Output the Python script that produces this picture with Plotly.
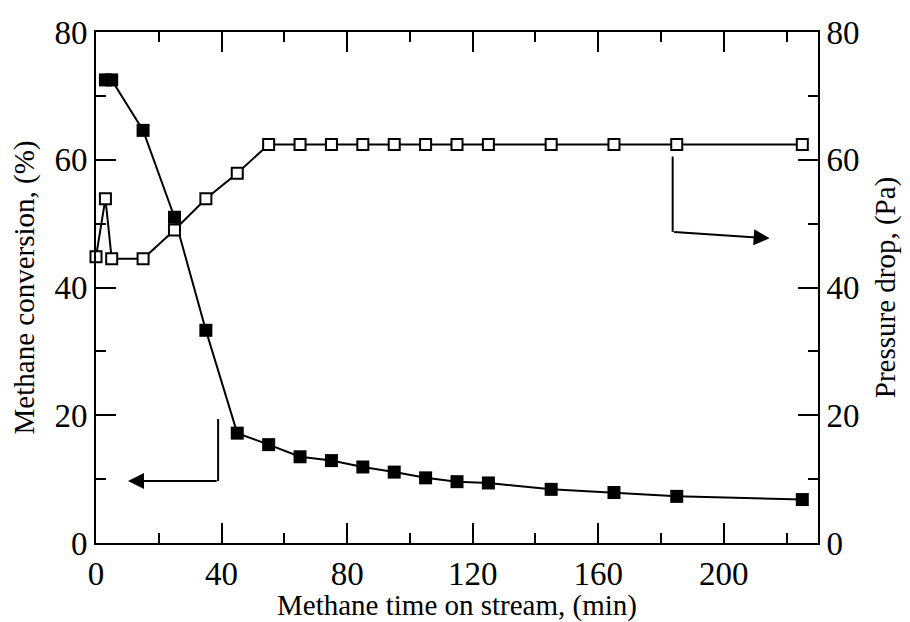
import plotly.graph_objects as go

time_conv = [3, 5, 15, 25, 35, 45, 55, 65, 75, 85, 95, 105, 115, 125, 145, 165, 185, 225]
conversion = [72.5, 72.5, 64.6, 51.0, 33.3, 17.2, 15.4, 13.5, 12.9, 11.9, 11.1, 10.2, 9.6, 9.4, 8.4, 7.9, 7.3, 6.8]

time_dp = [0, 3, 5, 15, 25, 35, 45, 55, 65, 75, 85, 95, 105, 115, 125, 145, 165, 185, 225]
pressure_drop = [44.8, 53.9, 44.5, 44.5, 49.0, 53.9, 57.9, 62.4, 62.4, 62.4, 62.4, 62.4, 62.4, 62.4, 62.4, 62.4, 62.4, 62.4, 62.4]

x_ticks = [0, 40, 80, 120, 160, 200]
y_ticks = [0, 20, 40, 60, 80]

FONT = "Liberation Serif, Times New Roman, serif"
fig = go.Figure()
fig.add_trace(go.Scatter(x=time_conv, y=conversion, mode="lines+markers",
                         line=dict(color="black", width=2),
                         marker=dict(symbol="square", size=13, color="black"),
                         cliponaxis=False, showlegend=False))
fig.add_trace(go.Scatter(x=time_dp, y=pressure_drop, mode="lines+markers", yaxis="y2",
                         line=dict(color="black", width=2),
                         marker=dict(symbol="square", size=11, color="white",
                                     line=dict(color="black", width=2)),
                         cliponaxis=False, showlegend=False))

axis_common = dict(showgrid=False, zeroline=False, showline=True, linecolor="black",
                   linewidth=2, ticks="inside", ticklen=20, tickwidth=2, tickcolor="black",
                   automargin=False,
                   tickfont=dict(family=FONT, size=33, color="black"))
minor_x = dict(dtick=20, tick0=0, ticks="inside", ticklen=10, tickwidth=2, tickcolor="black")
minor_y = dict(dtick=10, tick0=0, ticks="inside", ticklen=10, tickwidth=2, tickcolor="black")

# page body has an 8px margin, so the figure is sized and offset accordingly
fig.update_layout(
    width=902, height=614,
    margin=dict(l=88, r=92, t=24, b=79),
    plot_bgcolor="white", paper_bgcolor="white",
    font=dict(family=FONT, color="black"),
    xaxis=dict(range=[0, 230], tickvals=x_ticks, minor=minor_x,
               title=dict(text="Methane time on stream, (min)", font=dict(family=FONT, size=29), standoff=0),
               ticklabelstandoff=0, **axis_common),
    xaxis2=dict(range=[0, 230], tickvals=x_ticks, minor=minor_x, overlaying="x", side="top",
                anchor="y", showticklabels=False, **axis_common),
    yaxis=dict(range=[0, 80], tickvals=y_ticks, minor=minor_y,
               title=dict(text="Methane conversion, (%)", font=dict(family=FONT, size=29), standoff=12),
               ticklabelstandoff=0, **axis_common),
    yaxis2=dict(range=[0, 80], tickvals=y_ticks, overlaying="y", side="right", minor=minor_y,
                title=dict(text="Pressure drop, (Pa)", font=dict(family=FONT, size=29), standoff=16),
                ticklabelstandoff=0, **axis_common),
)

# dummy trace to activate top axis
fig.add_trace(go.Scatter(x=[None], y=[None], xaxis="x2", yaxis="y", showlegend=False, hoverinfo="skip"))

# pointer lines
fig.add_shape(type="line", x0=38.9, y0=19.4, x1=38.9, y1=9.7, xref="x", yref="y",
              line=dict(color="black", width=2))
fig.add_annotation(x=10.2, y=9.7, ax=38.9, ay=9.7, xref="x", yref="y", axref="x", ayref="y",
                   text="", showarrow=True, arrowhead=2, arrowsize=1.6, arrowwidth=2, arrowcolor="black")
fig.add_shape(type="line", x0=183.7, y0=60.5, x1=183.7, y1=48.7, xref="x", yref="y",
              line=dict(color="black", width=2))
fig.add_annotation(x=214.6, y=47.7, ax=183.7, ay=48.7, xref="x", yref="y", axref="x", ayref="y",
                   text="", showarrow=True, arrowhead=2, arrowsize=1.6, arrowwidth=2, arrowcolor="black")

fig.write_html("out.html")
